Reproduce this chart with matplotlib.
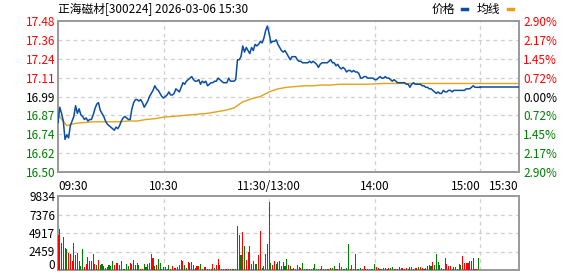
import numpy as np
import matplotlib.pyplot as plt
from matplotlib.lines import Line2D

plt.rcParams['font.family'] = ['Noto Sans CJK SC', 'DejaVu Sans']

# ---- data ----
prev_close = 16.99
title = "正海磁材[300224] 2026-03-06 15:30"

# minute-by-minute price, 09:30..11:30 then 13:01..15:00 (241 points)
price = [
    16.82, 16.92, 16.88, 16.83, 16.71, 16.74, 16.72, 16.80, 16.83, 16.86,
    16.93, 16.88, 16.91, 16.87, 16.86, 16.84, 16.85, 16.83, 16.84, 16.84,
    16.87, 16.91, 16.94, 16.95, 16.90, 16.88, 16.86, 16.83, 16.81, 16.80,
    16.79, 16.78, 16.77, 16.79, 16.78, 16.80, 16.83, 16.85, 16.86, 16.85,
    16.84, 16.84, 16.91, 16.95, 16.97, 16.97, 16.96, 16.97, 16.95, 16.92,
    16.94, 16.96, 16.99, 17.01, 17.03, 17.06, 17.04, 17.03, 17.01, 16.99,
    16.98, 16.99, 17.00, 17.02, 17.00, 17.00, 17.01, 17.04, 17.03, 17.02,
    17.05, 17.08, 17.07, 17.09, 17.10, 17.11, 17.12, 17.10, 17.09, 17.09,
    17.10, 17.07, 17.09, 17.08, 17.09, 17.06, 17.07, 17.08, 17.08, 17.09,
    17.09, 17.11, 17.10, 17.09, 17.08, 17.08, 17.08, 17.11, 17.09, 17.09,
    17.09, 17.10, 17.23, 17.23, 17.25, 17.32, 17.28, 17.31, 17.29, 17.27,
    17.31, 17.29, 17.33, 17.32, 17.33, 17.35, 17.34, 17.37, 17.42, 17.45,
    17.40, 17.34, 17.35, 17.35, 17.36, 17.33, 17.31, 17.29, 17.28, 17.29,
    17.27, 17.25, 17.23, 17.25, 17.25, 17.25, 17.23, 17.22, 17.22, 17.21,
    17.21, 17.21, 17.21, 17.22, 17.21, 17.22, 17.21, 17.20, 17.18, 17.20,
    17.21, 17.21, 17.21, 17.21, 17.22, 17.23, 17.21, 17.21, 17.19, 17.20,
    17.18, 17.17, 17.18, 17.17, 17.15, 17.16, 17.16, 17.15, 17.16, 17.15,
    17.15, 17.14, 17.11, 17.11, 17.12, 17.12, 17.11, 17.11, 17.11, 17.11,
    17.10, 17.10, 17.11, 17.12, 17.11, 17.11, 17.12, 17.11, 17.11, 17.10,
    17.09, 17.10, 17.09, 17.08, 17.08, 17.08, 17.08, 17.08, 17.07, 17.07,
    17.05, 17.07, 17.08, 17.07, 17.07, 17.07, 17.07, 17.06, 17.06, 17.05,
    17.05, 17.04, 17.04, 17.03, 17.02, 17.01, 17.02, 17.01, 17.01, 17.03,
    17.02, 17.02, 17.03, 17.03, 17.02, 17.03, 17.03, 17.03, 17.03, 17.03,
    17.03, 17.03, 17.04, 17.04, 17.04, 17.05, 17.06, 17.05, 17.05, 17.05,
    17.05,
]

# average price line, sampled every 5 minutes
avg_minutes = list(range(0, 241, 5))
avg_price = [
    16.87, 16.80, 16.815, 16.82, 16.825, 16.825, 16.825, 16.825, 16.83, 16.83,
    16.84, 16.845, 16.855, 16.86, 16.865, 16.87, 16.875, 16.88, 16.89, 16.90,
    16.915, 16.955, 16.975, 16.99, 17.02, 17.04, 17.05, 17.055, 17.06, 17.06,
    17.065, 17.065, 17.07, 17.07, 17.07, 17.07, 17.072, 17.075, 17.075, 17.075,
    17.075, 17.075, 17.075, 17.075, 17.075, 17.075, 17.075, 17.075, 17.075,
]

# after-hours fixed-price session (15:00 -> 15:30)
after_slots = [240, 262]
after_price = [17.05, 17.05]
after_avg = [17.075, 17.075]

# per-minute volume and direction (R = up, G = down)
volume = [
    4640, 5500, 3600, 4370, 2870, 2730, 2320, 2180, 1140, 3550,
    2050, 2320, 1140, 590, 2730, 410, 820, 1770, 1140, 1140,
    2180, 820, 680, 1365, 680, 820, 545, 270, 410, 680,
    545, 1230, 680, 865, 955, 680, 1230, 135, 135, 820,
    545, 955, 820, 1365, 680, 955, 680, 135, 135, 820,
    410, 820, 955, 2180, 1640, 545, 680, 1500, 955, 135,
    410, 410, 135, 680, 135, 545, 270, 270, 410, 680,
    1365, 1230, 680, 270, 1090, 865, 1090, 680, 270, 545,
    545, 820, 135, 410, 410, 135, 135, 135, 820, 270,
    680, 1500, 680, 135, 135, 135, 135, 135, 135, 135,
    135, 135, 5800, 4600, 2050, 5000, 3250, 1365, 2450, 3250,
    820, 1230, 820, 820, 2050, 5150, 270, 545, 2180, 3400,
    9100, 955, 680, 1230, 820, 1090, 1230, 545, 1090, 545,
    1500, 680, 545, 135, 270, 135, 680, 410, 270, 955,
    135, 135, 135, 135, 135, 270, 820, 135, 135, 135,
    545, 135, 135, 135, 135, 270, 270, 545, 135, 135,
    955, 410, 135, 135, 270, 3400, 135, 680, 135, 2180,
    135, 135, 270, 135, 545, 135, 135, 135, 135, 135,
    820, 410, 270, 135, 135, 270, 270, 135, 270, 270,
    410, 135, 135, 135, 410, 270, 270, 135, 270, 135,
    410, 410, 135, 270, 270, 410, 410, 270, 135, 270,
    545, 680, 545, 1090, 680, 2180, 1090, 680, 270, 135,
    1640, 820, 545, 545, 135, 410, 410, 135, 820, 680,
    1910, 955, 955, 955, 1230, 1230, 1640, 135, 135, 1640,
    0,
]
direction = (
    "RGGGRGRRRR" "GRGGGRRGRR" "RRGRGGGRGG" "GGRRGRRRGG" "GRRRGRGRRG"
    "GRRRRGRGGG" "GRGGGRRGRR" "RRGGRRGRGR" "RGGR"
    "GRRRRGRRGG" "RGRRGGRRRG" "GRGRRGRRRG" "RRGGRRGGRR" "GGGRRGGRGR"
    "RGGRRGGGRG" "RRGGGRRGGR" "GRGGRRGGRG" "GGRGR"
    "GGGGRRGGRR" "GGRRGRRRGR" "GGRGGGRRRR" "GGRGRRGRRG" "RGRGRGGGRR"
    "RGRRRGRGRR" "GRRRRRRRRR" "GG"
)

price_ticks = ["16.50", "16.62", "16.74", "16.87", "16.99", "17.11", "17.24", "17.36", "17.48"]
pct_ticks = ["2.90%", "2.17%", "1.45%", "0.72%", "0.00%", "0.72%", "1.45%", "2.17%", "2.90%"]
vol_ticks = ["0", "2459", "4917", "7376", "9834"]
vol_max = 9834
time_pos = [0, 60, 120, 180, 240, 262]
time_labels = ["09:30", "10:30", "11:30/13:00", "14:00", "15:00", "15:30"]
time_align = ["left", "center", "center", "center", "right", "right"]

RED = "#FF0000"
GREEN = "#008000"
BLUE = "#0B4DA2"
ORANGE = "#E3A21A"
FRAME = "#999999"
GRID = "#CFCFCF"


def style_frame(ax):
    for s in ax.spines.values():
        s.set_color(FRAME)
        s.set_linewidth(1.4)
    ax.tick_params(length=0)


def color_labels(labels, levels):
    for lab, lv in zip(labels, levels):
        if abs(lv - prev_close) < 1e-9:
            lab.set_color("black")
        else:
            lab.set_color(RED if lv > prev_close else GREEN)


def plot_chart():
    fig = plt.figure(figsize=(5.78, 2.76), dpi=100)
    ax = fig.add_axes([58 / 578, 1 - 172 / 276, 461 / 578, 151 / 276])
    axv = fig.add_axes([58 / 578, 1 - 270 / 276, 461 / 578, 74 / 276])

    xmax = time_pos[-1]
    span = prev_close * 0.029
    levels = [prev_close + span * k / 4 for k in range(-4, 5)]

    # price panel
    minutes = np.arange(len(price))
    ax.plot(minutes, price, color=BLUE, lw=1.1, zorder=3)
    ax.plot(avg_minutes, avg_price, color=ORANGE, lw=1.0, zorder=2)
    ax.plot(after_slots, after_price, color=BLUE, lw=1.1, zorder=3)
    ax.plot(after_slots, after_avg, color=ORANGE, lw=1.0, zorder=2)
    ax.set_xlim(0, xmax)
    ax.set_ylim(levels[0], levels[-1])
    ax.set_yticks(levels)
    ax.set_yticklabels(price_ticks, fontsize=8.5)
    color_labels(ax.get_yticklabels(), levels)
    ax.tick_params(axis="y", pad=2)

    ax2 = ax.twinx()
    ax2.set_ylim(ax.get_ylim())
    ax2.set_yticks(levels)
    ax2.set_yticklabels(pct_ticks, fontsize=8.5)
    color_labels(ax2.get_yticklabels(), levels)
    ax2.tick_params(length=0, pad=3)
    for s in ax2.spines.values():
        s.set_visible(False)

    ax.set_xticks([])
    for lv in levels[1:-1]:
        ax.axhline(lv, color=GRID, lw=0.9, ls=(0, (3, 3)), zorder=1)
    for t in time_pos[1:5]:
        ax.axvline(t, color=GRID, lw=0.9, ls=(0, (3, 3)), zorder=1)
    style_frame(ax)

    # time labels under the price panel
    for t, lab, ha in zip(time_pos, time_labels, time_align):
        ax.annotate(lab, (t, 0), xycoords=("data", "axes fraction"),
                    xytext=(0, -5.5), textcoords="offset points",
                    ha=ha, va="top", fontsize=8.5, color="black")

    # volume panel
    colors = [RED if d == "R" else GREEN for d in direction]
    axv.bar(np.arange(len(volume)), volume, width=0.6, color=colors, zorder=3)
    axv.set_xlim(0, xmax)
    axv.set_ylim(0, vol_max)
    vlev = [vol_max * k / 4 for k in range(5)]
    axv.set_yticks(vlev[1:])
    axv.set_yticklabels(vol_ticks[1:], fontsize=8.5)
    axv.tick_params(axis="y", pad=2)
    # "0" sits a little above the baseline so it stays inside the picture
    axv.annotate(vol_ticks[0], (0, 0), xycoords="axes fraction",
                 xytext=(-2.5, 3), textcoords="offset points",
                 ha="right", va="center", fontsize=8.5)
    axv.set_xticks([])
    for lv in vlev[1:-1]:
        axv.axhline(lv, color=GRID, lw=0.9, ls=(0, (3, 3)), zorder=1)
    for t in time_pos[1:5]:
        axv.axvline(t, color=GRID, lw=0.9, ls=(0, (3, 3)), zorder=1)
    style_frame(axv)

    # title and legend
    fig.text(58 / 578, 1 - 9 / 276, title, fontsize=8.5, ha="left", va="center")
    fig.text(432 / 578, 1 - 9 / 276, "价格", fontsize=8.5, ha="left", va="center")
    fig.text(477 / 578, 1 - 9 / 276, "均线", fontsize=8.5, ha="left", va="center")
    fig.add_artist(Line2D([462 / 578, 467 / 578], [1 - 9 / 276] * 2, color=BLUE, lw=2.5))
    fig.add_artist(Line2D([508 / 578, 513 / 578], [1 - 9 / 276] * 2, color=ORANGE, lw=2.5))

    fig.savefig("out.png", dpi=100)


if __name__ == "__main__":
    plot_chart()
